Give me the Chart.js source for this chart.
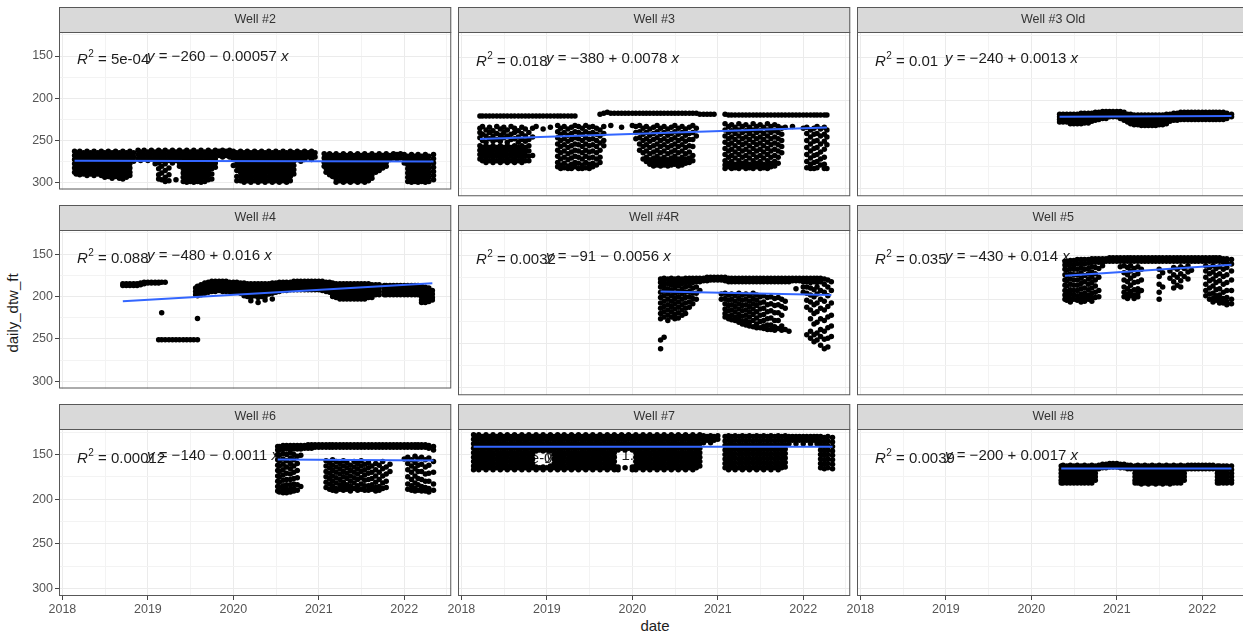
<!DOCTYPE html>
<html>
<head>
<meta charset="utf-8">
<title>daily_dtw_ft by well</title>
<script src="https://cdn.jsdelivr.net/npm/chart.js@4.4.1/dist/chart.umd.min.js"></script>
<style>
  html, body { margin: 0; padding: 0; background: #fff; }
  body { width: 1243px; height: 636px; overflow: hidden; position: relative;
         font-family: "Liberation Sans", Arial, sans-serif; }
  canvas { position: absolute; }
  .axis-title { position: absolute; font-size: 15px; color: #1e1e1e; white-space: nowrap;
                transform: translate(-50%, -50%); }
</style>
</head>
<body>
<div class="axis-title" style="left:655px; top:625px;">date</div>
<div class="axis-title" style="left:12px; top:313px; transform: translate(-50%,-50%) rotate(-90deg);">daily_dtw_ft</div>
<script>
// ---- facet titles and regression annotations ----
const wellNames = ['Well #2', 'Well #3', 'Well #3 Old', 'Well #4', 'Well #4R', 'Well #5', 'Well #6', 'Well #7', 'Well #8'];
const r2Labels = ['5e-04', '0.018', '0.01', '0.088', '0.0032', '0.035', '0.00012', '9.9e-07', '0.0039'];
const eqLabels = ['\u2212260 \u2212 0.00057', '\u2212380 + 0.0078', '\u2212240 + 0.0013', '\u2212480 + 0.016',
                  '\u221291 \u2212 0.0056', '\u2212430 + 0.014', '\u2212140 \u2212 0.0011', '\u2212140 + 1.1e\u221205',
                  '\u2212200 + 0.0017'];
// fitted depth at the first and last reading of each well
const fitStart = [274.4, 243.4, 218.0, 205.7, 191.2, 173.3, 155.6, 141.4, 165.7];
const fitEnd   = [275.4, 230.3, 217.2, 184.4, 195.0, 160.7, 156.7, 141.4, 165.7];

// ---- axis ticks ----
const xTickLabels = ['2018', '2019', '2020', '2021', '2022'];
const xMinorTicks = [2018.5, 2019.5, 2020.5, 2021.5, 2022.5];
const yTickLabels = ['150', '200', '250', '300'];
const yMinorTicks = [125, 175, 225, 275];

// ---- readings: [date, depth, depth, ...] ----
const well2Rows = [
  ['2018-02-22',263,268,273,278,283,288], ['2018-03-01',265,270,275,280,285,290],
  ['2018-03-16',263,268,273,278,283,288,291], ['2018-04-01',265,270,275,280,285,290],
  ['2018-04-16',263,268,273,278,283,288,292], ['2018-05-01',265,270,275,280,285,290],
  ['2018-05-16',263,268,273,278,283,288,292], ['2018-06-01',265,270,275,280,285,290],
  ['2018-06-16',263,268,273,278,283,288,292], ['2018-07-01',265,270,275,280,285,290,294],
  ['2018-07-16',263,268,273,278,283,288,293], ['2018-08-01',265,270,275,280,285,290,295],
  ['2018-08-16',263,268,273,278,283,288,293], ['2018-09-01',265,270,275,280,285,290,295],
  ['2018-09-16',263,268,273,278,283,288,293,296], ['2018-10-01',265,270,275,280,285,290,294],
  ['2018-10-16',263,268,273,278,283,288,292], ['2018-11-01',265,270,275],
  ['2018-11-20',262,267,272], ['2018-12-01',264,269,274], ['2018-12-16',262,267,272],
  ['2019-01-01',264,269,274], ['2019-01-16',262,267,272], ['2019-02-01',264,269,274,278],
  ['2019-02-16',262,267,272,277,284,291,296], ['2019-03-01',264,269,274,281,289,297],
  ['2019-03-16',262,267,272,278,286,294,299], ['2019-04-01',264,269,274,283,291,298],
  ['2019-04-16',262,267,272,277], ['2019-05-01',264,269,274,297], ['2019-05-16',262,267,272,277,281],
  ['2019-06-01',264,269,274,279,284,289,294,299], ['2019-06-16',262,267,272,277,282,287,292,297,300],
  ['2019-07-01',264,269,274,279,284,289,294,299], ['2019-07-16',262,267,272,277,282,287,292,297,300],
  ['2019-08-01',264,269,274,279,284,289,294,299], ['2019-08-16',262,267,272,277,282,287,292,297,300],
  ['2019-09-01',264,269,274,279,284,289,294,299], ['2019-09-16',262,267,272,277,282,287,292,297],
  ['2019-10-01',264,269,274,279,284,290,296], ['2019-10-16',262,267,272,277,282],
  ['2019-11-01',263,268], ['2019-11-16',262,266,270], ['2019-12-01',263,268], ['2019-12-16',262,266,270],
  ['2020-01-01',263,268,273,280], ['2020-01-16',265,270,275,280,286,293,298],
  ['2020-02-01',263,268,273,278,283,288,293,298], ['2020-02-16',265,270,275,280,285,290,295,300],
  ['2020-03-01',263,268,273,278,283,288,293,298], ['2020-03-16',265,270,275,280,285,290,295,300],
  ['2020-04-01',263,268,273,278,283,288,293,298], ['2020-04-16',265,270,275,280,285,290,295,300],
  ['2020-05-01',263,268,273,278,283,288,293,298], ['2020-05-16',265,270,275,280,285,290,295,300],
  ['2020-06-01',263,268,273,278,283,288,293,298], ['2020-06-16',265,270,275,280,285,290,295,300],
  ['2020-07-01',263,268,273,278,283,288,293,298], ['2020-07-16',265,270,275,280,285,290,295,300],
  ['2020-08-01',263,268,273,278,283,288,293,298], ['2020-08-16',265,270,275,280,285,290,295,300],
  ['2020-09-01',263,268,273,278,283,288,293,298], ['2020-09-16',265,270,275,280,285,290],
  ['2020-10-01',263,268,273], ['2020-10-16',265,270,275], ['2020-11-01',263,268,273], ['2020-11-16',265,270],
  ['2020-12-01',263,268,273], ['2020-12-16',265,270],
  ['2021-01-24',266,271,276,281], ['2021-02-01',268,273,278,283,288], ['2021-02-16',266,271,276,281,286,291],
  ['2021-03-01',268,273,278,283,288,293], ['2021-03-16',266,271,276,281,286,291,296,300],
  ['2021-04-01',268,273,278,283,288,293,298], ['2021-04-16',266,271,276,281,286,291,296,300],
  ['2021-05-01',268,273,278,283,288,293,298], ['2021-05-16',266,271,276,281,286,291,296,300],
  ['2021-06-01',268,273,278,283,288,293,298], ['2021-06-16',266,271,276,281,286,291,296,300],
  ['2021-07-01',268,273,278,283,288,293,298], ['2021-07-16',266,271,276,281,286,291,296,300],
  ['2021-08-01',268,273,278,283,288,293,298], ['2021-08-16',266,271,276,281,286,291,295],
  ['2021-09-01',268,273,278,283,288], ['2021-09-16',266,271,276,281,286], ['2021-10-01',268,273,278,283],
  ['2021-10-16',266,271,276,281], ['2021-11-01',268,273], ['2021-11-16',266,271], ['2021-12-01',267,272],
  ['2021-12-16',266,271], ['2022-01-01',267,272,277],
  ['2022-01-16',269,274,279,284,289,294,299], ['2022-02-01',267,272,277,282,287,292,297,300],
  ['2022-02-16',269,274,279,284,289,294,299], ['2022-03-01',267,272,277,282,287,292,297,300],
  ['2022-03-16',269,274,279,284,289,294,299], ['2022-04-01',267,272,277,282,287,292,297,300],
  ['2022-04-16',269,274,279,284,289,294,299], ['2022-05-06',267,272,277,282,287,292,297]
];

const well3Rows = [
  ['2018-03-21',217,231,236,242,251,256,261,266], ['2018-04-01',217,229,238,245,253,258,263,268],
  ['2018-04-16',217,233,240,247,251,256,261,266,270], ['2018-05-01',217,230,236,243,253,258,263,268],
  ['2018-05-16',217,234,240,246,251,256,261,266,270], ['2018-06-01',217,229,237,244,253,258,263,268],
  ['2018-06-16',217,232,239,246,251,256,261,266,270], ['2018-07-01',217,230,236,242,253,258,263,268],
  ['2018-07-16',217,233,240,247,251,256,261,266,270], ['2018-08-01',217,229,238,244,253,258,263,268],
  ['2018-08-16',217,231,236,243,251,256,261,266,270], ['2018-09-01',217,234,241,247,253,258,263,268],
  ['2018-09-16',217,230,237,244,251,256,261,266,270], ['2018-10-01',217,232,240,246,253,258,263,268],
  ['2018-10-16',217,236,244,251,257,263,268], ['2018-11-01',217,231,241,262], ['2018-11-16',217,229],
  ['2018-12-01',217], ['2018-12-16',217,232], ['2019-01-01',217], ['2019-01-16',217,230], ['2019-02-01',217],
  ['2019-02-16',217,228,235,242,249,256,263,270,275], ['2019-03-01',217,231,238,245,252,259,266,273,277],
  ['2019-03-16',217,229,236,243,250,257,264,271,276], ['2019-04-01',217,232,239,246,253,260,267,274,277],
  ['2019-04-16',217,230,237,244,251,258,265,272,277], ['2019-05-01',217,228,235,242,249,256,263,270,275],
  ['2019-05-16',229,236,243,250,257,264,271,277], ['2019-06-01',231,238,245,252,259,266,273,277],
  ['2019-06-16',228,235,242,249,256,263,270,276], ['2019-07-01',230,237,244,251,258,265,272,277],
  ['2019-07-16',229,236,243,250,257,264,271,275], ['2019-08-01',231,238,245,252,259,266,273],
  ['2019-08-16',215,233,240,248,256,264,270], ['2019-09-01',214,229,237,245,251],
  ['2019-09-16',213], ['2019-10-01',214,228], ['2019-10-16',214], ['2019-11-01',214], ['2019-11-16',214,230],
  ['2019-12-01',214], ['2019-12-16',214], ['2020-01-01',214,228], ['2020-01-16',214,229,236,243],
  ['2020-02-01',214,228,235,242,249,256], ['2020-02-16',214,231,238,245,252,259,266],
  ['2020-03-01',214,229,236,243,250,257,264,269], ['2020-03-16',214,232,239,246,253,260,267,272],
  ['2020-04-01',214,230,237,244,251,258,265,270,274], ['2020-04-16',214,228,235,242,249,256,263,268,273],
  ['2020-05-01',214,231,238,245,252,259,266,270,274], ['2020-05-16',214,229,236,243,250,257,264,269,273],
  ['2020-06-01',214,232,239,246,253,260,267,271,274], ['2020-06-16',214,230,237,244,251,258,265,270,273],
  ['2020-07-01',214,228,235,242,249,256,263,268,272], ['2020-07-16',214,231,238,245,252,259,266,270,274],
  ['2020-08-01',214,229,236,243,250,257,264,269,273], ['2020-08-16',214,232,239,246,253,260,266,271],
  ['2020-09-01',214,230,237,244,251,258,265,270], ['2020-09-16',214,228,236,244,252,262,268],
  ['2020-10-01',214,231,240], ['2020-10-16',215], ['2020-11-01',215], ['2020-11-16',215], ['2020-12-01',215],
  ['2020-12-16',215],
  ['2021-02-01',215,226,233,240,247,254,261,268,273,277], ['2021-02-16',216,229,236,243,250,257,264,271,275],
  ['2021-03-01',216,227,234,241,248,255,262,269,274,277], ['2021-03-16',216,230,237,244,251,258,265,272,276],
  ['2021-04-01',216,226,233,240,247,254,261,268,273,277], ['2021-04-16',216,229,236,243,250,257,264,271,275],
  ['2021-05-01',216,227,234,241,248,255,262,269,274,277], ['2021-05-16',216,230,237,244,251,258,265,272,276],
  ['2021-06-01',216,226,233,240,247,254,261,268,273,277], ['2021-06-16',216,229,236,243,250,257,264,271,275],
  ['2021-07-01',216,227,234,241,248,255,262,269,274,277], ['2021-07-16',216,230,237,244,251,258,265,272,276],
  ['2021-08-01',216,226,233,240,247,254,261,268,273,277], ['2021-08-16',216,229,236,243,250,257,264,271,275],
  ['2021-09-01',216,227,234,241,248,255,262,269,274], ['2021-09-16',216,229,236,243,250,257,264,271],
  ['2021-10-01',216,231,238,245,252,259], ['2021-10-16',216,230], ['2021-11-01',216], ['2021-11-16',216,229],
  ['2021-12-01',216], ['2021-12-16',216], ['2022-01-01',216,231],
  ['2022-01-16',216,230,237,245,253,261,269,276], ['2022-02-01',216,233,241,249,257,265,272,277],
  ['2022-02-16',216,231,238,246,254,262,270,277], ['2022-03-01',216,229,237,245,253,261,269,276],
  ['2022-03-16',216,232,240,249,258,266,273], ['2022-04-01',216,230,238,246,255,264,272,277],
  ['2022-04-12',216,233,241,250,277]
];

const well3OldRows = [
  ['2020-05-01',215,218,221,224], ['2020-05-16',215,218,221,224], ['2020-06-01',215,218,221,224],
  ['2020-06-16',215,218,221,224,226], ['2020-07-01',215,218,221,224,226], ['2020-07-16',215,218,221,224,226],
  ['2020-08-01',214,217,220,223,226], ['2020-08-16',214,217,220,223,225], ['2020-09-01',214,217,220,223,225],
  ['2020-09-16',214,217,220,223], ['2020-10-01',213,216,219,222], ['2020-10-16',213,216,219,221],
  ['2020-11-01',212,215,218,220], ['2020-11-16',212,215,218,220], ['2020-12-01',212,215,218],
  ['2020-12-16',212,215,218], ['2021-01-01',212,215,218], ['2021-01-16',212,215,218,220],
  ['2021-02-01',213,216,219,222], ['2021-02-16',215,218,221,224], ['2021-03-01',215,218,221,224,226],
  ['2021-03-16',216,219,222,225,227], ['2021-04-01',216,219,222,225,227], ['2021-04-16',216,219,222,225,228],
  ['2021-05-01',216,219,222,225,228], ['2021-05-16',216,219,222,225,228], ['2021-06-01',216,219,222,225,228],
  ['2021-06-16',216,219,222,225,228], ['2021-07-01',216,219,222,225,227], ['2021-07-16',216,219,222,225,227],
  ['2021-08-01',215,218,221,224,226], ['2021-08-16',215,218,221,223], ['2021-09-01',214,217,220,222],
  ['2021-09-16',214,217,220,222], ['2021-10-01',213,216,219,221], ['2021-10-16',213,216,219,221],
  ['2021-11-01',213,216,219,221], ['2021-11-16',213,216,219,221], ['2021-12-01',213,216,219,221],
  ['2021-12-16',213,216,219,221], ['2022-01-01',213,216,219,221], ['2022-01-16',213,216,219,221],
  ['2022-02-01',213,216,219,221], ['2022-02-16',213,216,219,221], ['2022-03-01',213,216,219,221],
  ['2022-03-16',213,216,219,221], ['2022-04-01',213,216,219,221], ['2022-04-16',214,217,220],
  ['2022-05-06',215,218]
];

const well4Rows = [
  ['2018-09-16',185,187], ['2018-10-01',185,187], ['2018-10-16',185,187], ['2018-11-01',185,187],
  ['2018-11-16',185,187], ['2018-12-01',184,186], ['2018-12-16',183,185], ['2019-01-01',183,184],
  ['2019-01-16',183,184], ['2019-02-01',183,184], ['2019-02-16',183,184,251], ['2019-03-01',183,219,251],
  ['2019-03-16',183,251], ['2019-04-01',251], ['2019-04-16',251], ['2019-05-01',251], ['2019-05-16',251],
  ['2019-06-01',251], ['2019-06-16',251], ['2019-07-01',251], ['2019-07-16',251],
  ['2019-07-24',190,194,198], ['2019-08-01',188,192,196,199,226,251], ['2019-08-16',186,190,194,198],
  ['2019-09-01',184,188,192,196], ['2019-09-16',183,187,191,195], ['2019-10-01',182,186,190,194],
  ['2019-10-16',182,186,190,194], ['2019-11-01',182,186,190,193], ['2019-11-16',182,186,190,194],
  ['2019-12-01',182,186,190,194], ['2019-12-16',183,187,191,194], ['2020-01-01',183,187,191,195],
  ['2020-01-16',183,187,191,195], ['2020-02-01',184,188,192,196], ['2020-02-16',184,188,192,196,199],
  ['2020-03-01',185,189,193,197,200], ['2020-03-16',185,189,193,197,201,205], ['2020-04-01',185,189,193,197,199],
  ['2020-04-16',185,189,193,197,201,207], ['2020-05-01',185,189,193,197,200], ['2020-05-16',185,189,193,196,200,204],
  ['2020-06-01',185,189,193,197], ['2020-06-16',184,188,192,196,203], ['2020-07-01',184,188,192,195],
  ['2020-07-16',183,187,191,194], ['2020-08-01',183,187,190,193], ['2020-08-16',183,187,190,193],
  ['2020-09-01',183,186,189,192], ['2020-09-16',182,186,189,192], ['2020-10-01',182,186,189,192],
  ['2020-10-16',182,186,189,192], ['2020-11-01',182,186,189,192], ['2020-11-16',182,186,189,192],
  ['2020-12-01',182,186,189,192], ['2020-12-16',182,186,189,192], ['2021-01-01',182,186,189,192],
  ['2021-01-16',182,186,189,193], ['2021-02-01',183,187,190,194], ['2021-02-16',183,187,191,195],
  ['2021-03-01',184,188,192,196,200], ['2021-03-16',185,189,193,197,201], ['2021-04-01',185,189,193,197,201,203],
  ['2021-04-16',185,189,193,197,201,203], ['2021-05-01',185,189,193,197,201,203], ['2021-05-16',185,189,193,197,201,203],
  ['2021-06-01',185,189,193,197,201,203], ['2021-06-16',185,189,193,197,201,203], ['2021-07-01',185,189,193,197,201,203],
  ['2021-07-16',185,189,193,197,201,203], ['2021-08-01',185,189,193,197,201], ['2021-08-16',186,190,194,198,201],
  ['2021-09-01',186,190,194,198], ['2021-09-16',186,190,194,198], ['2021-10-08',187,191,195,198],
  ['2021-10-16',187,191,195,198], ['2021-11-01',187,191,195,198], ['2021-11-16',187,191,195,198],
  ['2021-12-01',187,191,195,198], ['2021-12-16',187,191,195,198], ['2022-01-01',187,191,195,198],
  ['2022-01-16',187,191,195,198], ['2022-02-01',187,191,195,198], ['2022-02-16',187,191,195,198],
  ['2022-03-01',187,191,195,198], ['2022-03-16',188,192,196,200,204,207], ['2022-04-01',189,193,197,201,205,207],
  ['2022-04-16',190,194,198,202,206], ['2022-05-01',193,197,201,204]
];

const well4RRows = [
  ['2020-05-01',177,181,186,192,198,204,210,216,222,246,256], ['2020-05-16',176,180,185,190,196,202,208,214,220,243],
  ['2020-06-01',177,182,188,194,200,206,212,218,224], ['2020-06-16',176,180,184,190,196,202,208,214,220],
  ['2020-07-01',177,182,187,193,199,205,211,217,222], ['2020-07-16',176,180,185,191,197,203,209,215,221],
  ['2020-08-01',177,182,188,194,200,206,212,218], ['2020-08-16',176,181,186,192,198,204,210,216],
  ['2020-09-01',176,180,185,191,197,203,209], ['2020-09-16',176,181,187,193,199,205],
  ['2020-10-01',176,180,186,193,200], ['2020-10-16',176,180,190], ['2020-11-01',176,179], ['2020-11-16',175,179],
  ['2020-12-01',175,178], ['2020-12-16',175,178], ['2021-01-01',175,178], ['2021-01-16',175,178,194,200],
  ['2021-02-01',175,179,193,199,205,211,216,220], ['2021-02-16',176,180,195,201,207,213,219,222],
  ['2021-03-01',176,180,194,200,206,212,218,223], ['2021-03-16',176,180,196,202,208,214,220,224],
  ['2021-04-01',176,180,193,199,205,211,217,222,226], ['2021-04-16',176,180,195,201,207,213,219,225,228],
  ['2021-05-01',176,180,194,200,206,212,218,224,229], ['2021-05-16',176,180,196,202,208,214,220,226,230],
  ['2021-06-01',176,180,193,199,205,211,217,224,231], ['2021-06-16',176,180,195,201,207,214,221,228,232],
  ['2021-07-01',176,180,197,204,211,218,225,232], ['2021-07-16',176,180,196,203,210,217,224,230,233],
  ['2021-08-01',176,180,198,206,214,222,229,234], ['2021-08-16',176,180,197,205,213,221,229,234],
  ['2021-09-01',176,180,199,207,215,224,231,235], ['2021-09-16',176,180,198,206,215,224,233],
  ['2021-10-01',176,180,200,208,218,230,235], ['2021-10-16',176,180,202,210,234], ['2021-11-01',176,180,236],
  ['2021-11-16',176,179], ['2021-12-01',176,179,188], ['2021-12-16',176,179], ['2022-01-01',176,180,186,192],
  ['2022-01-16',176,180,186,193,201,209,240], ['2022-02-01',176,181,187,195,203,212,222,236,244],
  ['2022-02-16',176,180,189,197,206,216,228,240,248], ['2022-03-01',176,181,186,194,204,214,226,238,246],
  ['2022-03-16',176,180,190,200,210,222,234,242,252], ['2022-04-01',177,183,192,202,212,224,236,245,256],
  ['2022-04-16',178,186,196,208,220,232,244,254], ['2022-05-01',180,190,204,218,230,242]
];

const well5Rows = [
  ['2020-05-24',157,161,166,172,178,184,190,195,200], ['2020-06-01',157,161,167,173,179,185,191,196,201],
  ['2020-06-16',156,160,165,171,177,183,189,194,199,203], ['2020-07-01',156,161,166,172,178,184,190,195,200],
  ['2020-07-16',155,160,166,172,178,184,190,196,201], ['2020-08-01',155,159,164,170,176,182,188,194,199,203],
  ['2020-08-16',155,160,166,173,180,187,193,198,202], ['2020-09-01',155,159,165,171,177,183,189,195,200],
  ['2020-09-16',154,158,163,169,175,181,187,193,198,202], ['2020-10-01',154,158,164,171,178,185,192,198],
  ['2020-10-16',154,158,165,175,190,197], ['2020-11-01',154,158,162], ['2020-11-16',154,157],
  ['2020-12-01',153,157], ['2020-12-16',153,157], ['2021-01-01',153,157], ['2021-01-16',153,157,163],
  ['2021-02-01',153,157,162,170,178,186,192,197], ['2021-02-16',153,157,164,172,180,188,194,199],
  ['2021-03-01',153,157,162,168,176,184,191,196], ['2021-03-16',153,157,165,173,181,189,195,199],
  ['2021-04-01',153,157,163,171,180,188,193,197], ['2021-04-16',153,157,166,178,190],
  ['2021-05-01',153,157], ['2021-05-16',153,157], ['2021-06-01',153,157], ['2021-06-16',153,157],
  ['2021-07-01',153,157,166,174,183,192,200], ['2021-07-16',153,157,170,186], ['2021-08-01',153,157],
  ['2021-08-16',153,157,168,176], ['2021-09-01',153,157,164,172,180,187], ['2021-09-16',153,157,166,175,184],
  ['2021-10-01',153,157,163,171,179,186], ['2021-10-16',153,157,165,174], ['2021-11-01',153,157,162,169,177],
  ['2021-11-16',153,157,167], ['2021-12-01',153,157], ['2021-12-16',153,157], ['2022-01-01',153,157],
  ['2022-01-16',153,157,162,168,175,183,190,196], ['2022-02-01',153,157,164,171,179,187,194,200],
  ['2022-02-16',153,157,162,169,177,185,193,199,203], ['2022-03-01',153,157,165,173,181,189,196,201],
  ['2022-03-16',153,157,163,171,179,188,195,200,204], ['2022-04-01',154,158,166,174,183,192,199,204],
  ['2022-04-16',154,158,164,172,181,190,198,203,206], ['2022-05-06',155,160,168,178,190,200,205]
];

const well6Rows = [
  ['2020-07-09',141,145,150,156,162,168,174,180,186,191], ['2020-07-16',141,145,151,157,163,169,175,181,187,192],
  ['2020-08-01',140,144,149,155,161,167,173,179,185,190,193], ['2020-08-16',140,144,150,157,164,171,178,184,189,193],
  ['2020-09-01',140,144,148,154,160,166,172,178,184,189,192], ['2020-09-16',140,144,150,156,163,170,177,183,188,191],
  ['2020-10-01',140,144,152,160,168,176,184,190], ['2020-10-16',140,144,151,186], ['2020-11-01',140,143],
  ['2020-11-16',139,143], ['2020-12-01',139,143], ['2020-12-16',139,142], ['2021-01-01',139,142],
  ['2021-01-16',139,142], ['2021-02-01',139,142,157,163,169,175,181,187], ['2021-02-16',139,142,159,165,171,177,183,189],
  ['2021-03-01',139,142,156,162,168,174,180,186,190], ['2021-03-16',139,142,158,164,170,176,182,188,191],
  ['2021-04-01',139,142,160,166,172,178,184,189], ['2021-04-16',139,142,157,163,169,175,181,186,190],
  ['2021-05-01',139,142,159,165,171,177,184,189], ['2021-05-16',139,142,162,168,174,180,186,191],
  ['2021-06-01',139,142,158,164,170,176,182,188], ['2021-06-16',139,142,160,166,172,178,185,190],
  ['2021-07-01',139,142,157,163,169,176,183,189], ['2021-07-16',139,142,161,167,173,179,185,190],
  ['2021-08-01',139,142,159,165,171,178,185,190], ['2021-08-16',139,142,163,170,177,184,189],
  ['2021-09-01',139,142,160,167,174,181,187,191], ['2021-09-16',139,142,162,170,178,186,190],
  ['2021-10-01',139,142,158,166,174,182,188], ['2021-10-16',139,142,164,172,180,187], ['2021-11-01',139,142,161,169],
  ['2021-11-16',139,142], ['2021-12-01',139,142], ['2021-12-16',139,142], ['2022-01-01',139,142,155],
  ['2022-01-16',139,142,153,160,167,175,183,189], ['2022-02-01',139,142,156,163,170,178,185,190],
  ['2022-02-16',139,142,152,159,166,174,182,188,191], ['2022-03-01',139,142,155,162,169,177,184,190],
  ['2022-03-16',139,142,153,161,169,178,186,191], ['2022-04-01',139,142,156,164,172,180,187,191],
  ['2022-04-16',140,143,154,162,171,180,188,192], ['2022-05-06',141,145,158,170,183,190]
];

const well7Rows = [
  ['2018-02-22',128,133,138,143,148,153,158,163,167], ['2018-03-01',130,135,140,145,150,155,160,165],
  ['2018-03-16',128,133,138,143,148,153,158,163,167], ['2018-04-01',130,135,140,145,150,155,160,165],
  ['2018-04-16',128,133,138,143,148,153,158,163,167], ['2018-05-01',130,135,140,145,150,155,160,165],
  ['2018-05-16',128,133,138,143,148,153,158,163,167], ['2018-06-01',130,135,140,145,150,155,160,165],
  ['2018-06-16',128,133,138,143,148,153,158,163,167], ['2018-07-01',130,135,140,145,150,155,160,165],
  ['2018-07-16',128,133,138,143,148,153,158,163,167], ['2018-08-01',130,135,140,145,150,155,160,165],
  ['2018-08-16',128,133,138,143,148,153,158,163,167], ['2018-09-01',130,135,140,145,150,155,160,165],
  ['2018-09-16',128,133,138,143,148,153,158,163,167], ['2018-10-01',130,135,140,145,150,155,160,165],
  ['2018-10-16',128,133,138,143,148,153,158,163,167], ['2018-11-01',130,135,140,145,150,155,160,165],
  ['2018-11-16',128,133,138,143,146,164,167], ['2018-12-01',130,135,140,145,165],
  ['2018-12-16',128,133,138,143,146,164,167], ['2019-01-01',130,135,140,145,165],
  ['2019-01-16',128,133,138,143,146,163,167], ['2019-02-01',130,135,140,145,150,155,160,165],
  ['2019-02-16',128,133,138,143,148,153,158,163,167], ['2019-03-01',130,135,140,145,150,155,160,165],
  ['2019-03-16',128,133,138,143,148,153,158,163,167], ['2019-04-01',130,135,140,145,150,155,160,165],
  ['2019-04-16',128,133,138,143,148,153,158,163,167], ['2019-05-01',130,135,140,145,150,155,160,165],
  ['2019-05-16',128,133,138,143,148,153,158,163,167], ['2019-06-01',130,135,140,145,150,155,160,165],
  ['2019-06-16',128,133,138,143,148,153,158,163,167], ['2019-07-01',130,135,140,145,150,155,160,165],
  ['2019-07-16',128,133,138,143,148,153,158,163,167], ['2019-08-01',130,135,140,145,150,155,160,165],
  ['2019-08-16',128,133,138,143,148,153,158,163,167], ['2019-09-01',130,135,140,145,150,155,160,165],
  ['2019-09-16',128,133,138,143,148,153,158,163,167], ['2019-10-01',130,135,140,145,150,155,160,165],
  ['2019-10-16',128,133,138,143,148,153,158,163,167], ['2019-11-01',130,135,140,145,164,167],
  ['2019-11-16',128,133,138,143], ['2019-12-01',130,135,140,145,165], ['2019-12-16',128,133,138,143],
  ['2020-01-01',130,135,140,145,164,167], ['2020-01-16',128,133,138,143,148,153,158,163,167],
  ['2020-02-01',130,135,140,145,150,155,160,165], ['2020-02-16',128,133,138,143,148,153,158,163,167],
  ['2020-03-01',130,135,140,145,150,155,160,165], ['2020-03-16',128,133,138,143,148,153,158,163,167],
  ['2020-04-01',130,135,140,145,150,155,160,165], ['2020-04-16',128,133,138,143,148,153,158,163,167],
  ['2020-05-01',130,135,140,145,150,155,160,165], ['2020-05-16',128,133,138,143,148,153,158,163,167],
  ['2020-06-01',130,135,140,145,150,155,160,165], ['2020-06-16',128,133,138,143,148,153,158,163,167],
  ['2020-07-01',130,135,140,145,150,155,160,165], ['2020-07-16',128,133,138,143,148,153,158,163,167],
  ['2020-08-01',130,135,140,145,150,155,160,165], ['2020-08-16',128,133,138,143,148,153,158,163,167],
  ['2020-09-01',130,135,140,145,150,155,160,165], ['2020-09-16',128,133,138,143,148,153,158,163,167],
  ['2020-10-01',130,135,140,145,150,155,160,165], ['2020-10-16',128,133,138,143,148,153,158,163],
  ['2020-11-01',129,133,137], ['2020-11-16',130,134], ['2020-12-01',129,133,137], ['2020-12-16',130,134],
  ['2021-01-01',129,133],
  ['2021-02-01',130,135,140,145,150,155,160,165], ['2021-02-16',129,134,139,144,149,154,159,164,167],
  ['2021-03-01',130,135,140,145,150,155,160,165], ['2021-03-16',129,134,139,144,149,154,159,164,167],
  ['2021-04-01',130,135,140,145,150,155,160,165], ['2021-04-16',129,134,139,144,149,154,159,164,167],
  ['2021-05-01',130,135,140,145,150,155,160,165], ['2021-05-16',129,134,139,144,149,154,159,164,167],
  ['2021-06-01',130,135,140,145,150,155,160,165], ['2021-06-16',129,134,139,144,149,154,159,164,167],
  ['2021-07-01',130,135,140,145,150,155,160,165], ['2021-07-16',129,134,139,144,149,154,159,164,167],
  ['2021-08-01',130,135,140,145,150,155,160,165], ['2021-08-16',129,134,139,144,149,154,159,164,167],
  ['2021-09-01',130,135,140,145,150,155,160,165], ['2021-09-16',129,134,139,144,149,154,159,164,167],
  ['2021-10-01',130,135,140,145,150,155,160,165], ['2021-10-16',129,134,139,144,149,154,159,164],
  ['2021-11-01',130,134,138], ['2021-11-16',130,134], ['2021-12-01',130,134,138], ['2021-12-16',130,134],
  ['2022-01-01',130,134,138], ['2022-01-16',130,134], ['2022-02-01',130,134,138], ['2022-02-16',130,134],
  ['2022-03-01',130,134,138], ['2022-03-16',130,135,140,145,150,155,160,165],
  ['2022-04-01',131,136,141,146,151,156,161,166], ['2022-04-16',130,135,140,145,150,155,160,165],
  ['2022-05-06',131,136,141,146,151,156,161,166]
];

const well8Rows = [
  ['2020-05-08',163,167,171,175,179,182], ['2020-05-16',162,166,170,174,178,182], ['2020-06-01',163,167,171,175,179,182],
  ['2020-06-16',162,166,170,174,178,182], ['2020-07-01',163,167,171,175,179,182], ['2020-07-16',162,166,170,174,178,182],
  ['2020-08-01',163,167,171,175,179,182], ['2020-08-16',162,166,170,174,178,182], ['2020-09-01',163,167,171,175,179,182],
  ['2020-09-16',162,166,170,174,178,182], ['2020-10-01',163,167,171,175,179], ['2020-10-16',162,166],
  ['2020-11-01',161,165], ['2020-11-16',161,165], ['2020-12-01',160,164], ['2020-12-16',160,164],
  ['2021-01-01',160,164], ['2021-01-16',161,165], ['2021-02-01',161,165], ['2021-02-16',162,166],
  ['2021-03-01',162,166], ['2021-03-20',163,167,171,175,179,182], ['2021-04-01',162,166,170,174,178,182],
  ['2021-04-16',163,167,171,175,179,183], ['2021-05-01',162,166,170,174,178,182], ['2021-05-16',163,167,171,175,179,183],
  ['2021-06-01',162,166,170,174,178,182], ['2021-06-16',163,167,171,175,179,183], ['2021-07-01',162,166,170,174,178,182],
  ['2021-07-16',163,167,171,175,179,183], ['2021-08-01',162,166,170,174,178,182], ['2021-08-16',163,167,171,175,179,183],
  ['2021-09-01',162,166,170,174,178,182], ['2021-09-16',163,167,171,175,179,182], ['2021-10-01',162,166,170,174,178,182],
  ['2021-10-16',163,167,171,175,179], ['2021-11-01',162,166], ['2021-11-16',162,166], ['2021-12-01',162,166],
  ['2021-12-16',162,166], ['2022-01-01',162,166], ['2022-01-16',162,166], ['2022-02-01',162,166],
  ['2022-02-16',162,166], ['2022-03-07',163,167,171,175,179,182], ['2022-03-16',163,167,171,175,179,182],
  ['2022-04-01',163,167,171,175,179,182], ['2022-04-16',163,167,171,175,179,182], ['2022-05-06',163,167,171,175,179,182]
];

const wellRows = [well2Rows, well3Rows, well3OldRows, well4Rows, well4RRows, well5Rows, well6Rows, well7Rows, well8Rows];

// ---- layout of the 3 x 3 facet grid (page pixels) ----
const PANEL_X = [59, 458, 857];      // left edge of each column's plot area
const PANEL_W = 393;
const STRIP_TOP = [7, 205, 404];     // top edge of each row's strip
const STRIP_H = 25;
const PLOT_BOTTOM = [197, 396, 596];
const Y_AXIS_W = 30;
const X_AXIS_H = 20;
const SIDE_PAD = 16;
const POINT_R = 2.75;

const X_MIN = 2017.96, X_MAX = 2022.55;
const Y_MIN = 121.5, Y_MAX = 308.5;

const FONT = '"Liberation Sans", Arial, sans-serif';
Chart.defaults.font.family = FONT;

function toYear(s) {
  const [y, m, d] = s.split('-').map(Number);
  const t = Date.UTC(y, m - 1, d), a = Date.UTC(y, 0, 1), b = Date.UTC(y + 1, 0, 1);
  return y + (t - a) / (b - a);
}

const xMajor = xTickLabels.map(Number);
const yMajor = yTickLabels.map(Number);
const xAllTicks = [...xMajor, ...xMinorTicks].sort((a, b) => a - b);
const yAllTicks = [...yMajor, ...yMinorTicks].sort((a, b) => a - b);

// strip header, panel frame and the R² / equation annotation
const facetPlugin = {
  id: 'facet',
  beforeDatasetsDraw(chart, args, opts) {
    const { ctx, scales: { x, y } } = chart;
    ctx.save();
    ctx.fillStyle = '#1c1c1c';
    ctx.textAlign = 'left';
    ctx.textBaseline = 'alphabetic';
    let px = x.getPixelForValue(2018.17);
    let py = y.getPixelForValue(160);
    ctx.font = 'italic 15px ' + FONT;
    ctx.fillText('R', px, py);
    px += ctx.measureText('R').width + 0.5;
    ctx.font = '10px ' + FONT;
    ctx.fillText('2', px, py - 7);
    px += ctx.measureText('2').width;
    ctx.font = '15px ' + FONT;
    ctx.fillText(' = ' + opts.r2, px, py);

    px = x.getPixelForValue(2018.99);
    py = y.getPixelForValue(156.5);
    ctx.font = 'italic 15px ' + FONT;
    ctx.fillText('y', px, py);
    px += ctx.measureText('y').width;
    const mid = ' = ' + opts.eq + ' ';
    ctx.font = '15px ' + FONT;
    ctx.fillText(mid, px, py);
    px += ctx.measureText(mid).width;
    ctx.font = 'italic 15px ' + FONT;
    ctx.fillText('x', px, py);
    ctx.restore();
  },
  afterDraw(chart, args, opts) {
    const { ctx, chartArea: a } = chart;
    const w = a.right - a.left;
    ctx.save();
    ctx.fillStyle = '#d9d9d9';
    ctx.fillRect(a.left, a.top - STRIP_H, w, STRIP_H);
    ctx.strokeStyle = '#585858';
    ctx.lineWidth = 1;
    ctx.strokeRect(a.left + 0.5, a.top - STRIP_H + 0.5, w - 1, STRIP_H);
    ctx.strokeRect(a.left + 0.5, a.top + 0.5, w - 1, a.bottom - a.top - 1);
    ctx.fillStyle = '#333';
    ctx.font = '12.5px ' + FONT;
    ctx.textAlign = 'center';
    ctx.textBaseline = 'middle';
    ctx.fillText(opts.title, a.left + w / 2, a.top - STRIP_H / 2 + 0.5);
    ctx.restore();
  }
};

wellNames.forEach((name, i) => {
  const r = Math.floor(i / 3), c = i % 3;
  const rows = wellRows[i];
  const leftExtra = c === 0 ? Y_AXIS_W : SIDE_PAD;
  const bottomExtra = r === 2 ? X_AXIS_H : 2;
  const plotH = PLOT_BOTTOM[r] - (STRIP_TOP[r] + STRIP_H);
  const w = leftExtra + PANEL_W + 2;
  const h = STRIP_H + plotH + bottomExtra;

  const cv = document.createElement('canvas');
  cv.width = w; cv.height = h;
  cv.style.width = w + 'px'; cv.style.height = h + 'px';
  cv.style.left = (PANEL_X[c] - leftExtra) + 'px';
  cv.style.top = STRIP_TOP[r] + 'px';
  document.body.appendChild(cv);

  const points = [];
  rows.forEach(([d, ...vals]) => {
    const x = toYear(d);
    vals.forEach(v => points.push({ x, y: v }));
  });
  const x0 = toYear(rows[0][0]), x1 = toYear(rows[rows.length - 1][0]);

  new Chart(cv, {
    type: 'scatter',
    data: {
      datasets: [
        { type: 'line', order: 0, data: [{ x: x0, y: fitStart[i] }, { x: x1, y: fitEnd[i] }],
          borderColor: '#3366ff', borderWidth: 2, pointRadius: 0, fill: false, tension: 0 },
        { type: 'scatter', order: 1, data: points, pointRadius: POINT_R, pointHoverRadius: POINT_R,
          pointBackgroundColor: '#000', pointBorderWidth: 0, borderWidth: 0 }
      ]
    },
    options: {
      responsive: false,
      animation: false,
      events: [],
      layout: { padding: { top: STRIP_H, right: 2, bottom: r === 2 ? 0 : 2, left: c === 0 ? 0 : SIDE_PAD } },
      plugins: {
        legend: { display: false },
        tooltip: { enabled: false },
        facet: { title: name, r2: r2Labels[i], eq: eqLabels[i] }
      },
      scales: {
        x: {
          type: 'linear', min: X_MIN, max: X_MAX,
          afterBuildTicks: s => { s.ticks = xAllTicks.map(v => ({ value: v })); },
          afterFit: s => { s.height = r === 2 ? X_AXIS_H : 0; },
          ticks: {
            display: r === 2, autoSkip: false, maxRotation: 0, padding: 2, color: '#555',
            font: { size: 12.5, family: FONT },
            callback: v => (xMajor.includes(v) ? String(v) : '')
          },
          grid: {
            color: ctx => (ctx.tick && xMajor.includes(ctx.tick.value) ? '#ebebeb' : '#f3f3f3'),
            lineWidth: 1, drawTicks: r === 2, tickLength: 4,
            tickColor: ctx => (ctx.tick && xMajor.includes(ctx.tick.value) ? '#444' : 'rgba(0,0,0,0)')
          },
          border: { display: false }
        },
        y: {
          type: 'linear', reverse: true, min: Y_MIN, max: Y_MAX,
          afterBuildTicks: s => { s.ticks = yAllTicks.map(v => ({ value: v })); },
          afterFit: s => { s.width = c === 0 ? Y_AXIS_W : 0; },
          ticks: {
            display: c === 0, autoSkip: false, padding: 2, color: '#555',
            font: { size: 12.5, family: FONT },
            callback: v => (yMajor.includes(v) ? String(v) : '')
          },
          grid: {
            color: ctx => (ctx.tick && yMajor.includes(ctx.tick.value) ? '#ebebeb' : '#f3f3f3'),
            lineWidth: 1, drawTicks: c === 0, tickLength: 4,
            tickColor: ctx => (ctx.tick && yMajor.includes(ctx.tick.value) ? '#444' : 'rgba(0,0,0,0)')
          },
          border: { display: false }
        }
      }
    },
    plugins: [facetPlugin]
  });
});
</script>
</body>
</html>
